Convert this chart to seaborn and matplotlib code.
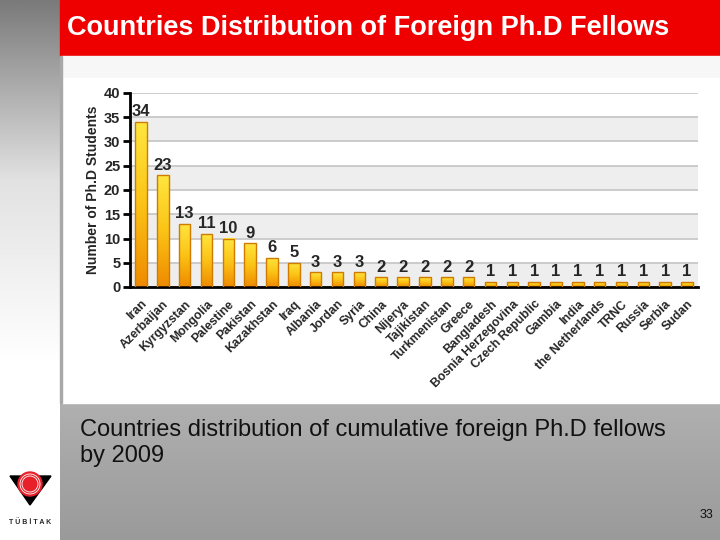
import numpy as np
import matplotlib.pyplot as plt
import matplotlib.patches as mpatches
from matplotlib.colors import LinearSegmentedColormap
import seaborn as sns

countries = ['Iran', 'Azerbaijan', 'Kyrgyzstan', 'Mongolia', 'Palestine', 'Pakistan',
             'Kazakhstan', 'Iraq', 'Albania', 'Jordan', 'Syria', 'China', 'Nijerya',
             'Tajikistan', 'Turkmenistan', 'Greece', 'Bangladesh', 'Bosnia Herzegovina',
             'Czech Republic', 'Gambia', 'India', 'the Netherlands', 'TRNC', 'Russia',
             'Serbia', 'Sudan']
students = [34, 23, 13, 11, 10, 9, 6, 5, 3, 3, 3, 2, 2, 2, 2, 2, 1, 1, 1, 1, 1, 1, 1, 1, 1, 1]
y_ticks = [0, 5, 10, 15, 20, 25, 30, 35, 40]

title = 'Countries Distribution of Foreign Ph.D Fellows'
caption = ['Countries distribution of cumulative foreign Ph.D fellows', 'by 2009']
page_no = '33'

sns.set_style('white')
plt.rcParams['font.family'] = ['Liberation Sans', 'DejaVu Sans']

fig = plt.figure(figsize=(7.2, 5.4), dpi=100)

# slide background (pixel coords)
bg = fig.add_axes([0, 0, 1, 1], zorder=-10)
bg.set_axis_off()
grad = np.linspace(0, 1, 256).reshape(-1, 1)
side_cmap = LinearSegmentedColormap.from_list('side', ['#7a7a7a', '#e2e2e2', '#ffffff', '#ffffff'])
bg.imshow(grad, extent=[0, 60, 540, 0], cmap=side_cmap, aspect='auto')
foot_cmap = LinearSegmentedColormap.from_list('foot', ['#b0b0b0', '#9a9a9a'])
bg.imshow(grad, extent=[60, 720, 540, 403], cmap=foot_cmap, aspect='auto')
bg.add_patch(mpatches.Rectangle((60, 0), 660, 56, color='#ee0000'))
bg.add_patch(mpatches.Rectangle((62, 56), 658, 22, color='#f7f7f7'))
bg.add_patch(mpatches.Rectangle((62, 78), 658, 325, color='white'))
bg.add_patch(mpatches.Rectangle((60, 56), 2, 347, color='#a8a8a8'))

# logo
bg.add_patch(mpatches.Polygon([(10, 476), (51, 476), (30, 505)], color='black'))
bg.add_patch(mpatches.Circle((30, 484), 12, color='#e8202a'))
for r in [10, 8]:
    bg.add_patch(mpatches.Circle((30, 484), r, fill=False, ec='white', lw=0.6))
bg.text(30, 523, 'T Ü B İ T A K', fontsize=5, fontweight='bold', ha='center', va='center')
bg.set_xlim(0, 720)
bg.set_ylim(540, 0)

fig.text(67 / 720, 1 - 28 / 540, title, color='white', fontsize=19.5,
         fontweight='bold', va='center', ha='left')
fig.text(80 / 720, 1 - 430 / 540, caption[0], color='#111111', fontsize=17, va='center')
fig.text(80 / 720, 1 - 456 / 540, caption[1], color='#111111', fontsize=17, va='center')
fig.text(713 / 720, 1 - 515 / 540, page_no, color='#111111', fontsize=9, ha='right', va='center')

# chart
ax = fig.add_axes([130 / 720, 1 - 287 / 540, 568 / 720, 194 / 540])
for lo in y_ticks[:-1:2]:
    ax.axhspan(lo, lo + 5, color='#eeeeee', zorder=0, lw=0)
ax.yaxis.grid(True, color='#c4c4c4', lw=1.2)
ax.set_axisbelow(True)

sns.barplot(x=countries, y=students, color='#f7b500', saturation=1, width=0.53,
            edgecolor='#d07a00', linewidth=1, ax=ax, zorder=2)

gold = LinearSegmentedColormap.from_list('gold', ['#ffe640', '#fbc316', '#ef8a00'])
bars = ax.containers[0]
for p in bars:
    x0, y0, w, h = p.get_x(), p.get_y(), p.get_width(), p.get_height()
    im = ax.imshow(grad, extent=[x0, x0 + w, y0, y0 + h], cmap=gold,
                   aspect='auto', origin='upper', zorder=2.1)
    im.set_clip_path(p)
    p.set_facecolor('none')
    p.set_zorder(3)

ax.bar_label(bars, labels=[str(v) for v in students], padding=2,
             fontsize=12, fontweight='bold')

ax.set_xlim(-0.5, len(countries) - 0.5)
ax.set_ylim(0, 40)
ax.set_yticks(y_ticks)
ax.set_yticklabels([str(t) for t in y_ticks], fontsize=10.5, fontweight='bold')
ax.set_xticks(range(len(countries)))
ax.set_xticklabels(countries, rotation=45, ha='right', rotation_mode='anchor',
                   fontsize=8.8, fontweight='bold')
ax.set_xticks(np.arange(-0.5, len(countries)), minor=True)
ax.tick_params(axis='x', which='major', length=0, pad=8)
ax.tick_params(axis='x', which='minor', length=5, width=2, direction='out', color='black')
ax.tick_params(axis='y', length=5, width=2, direction='out', color='black', pad=2, left=True)
ax.set_xlabel('')
ax.set_ylabel('Number of Ph.D Students', fontsize=10, fontweight='bold', labelpad=3)
for s in ['top', 'right']:
    ax.spines[s].set_visible(False)
for s in ['left', 'bottom']:
    ax.spines[s].set_color('black')
    ax.spines[s].set_linewidth(2)

fig.savefig('out.png', dpi=100)
